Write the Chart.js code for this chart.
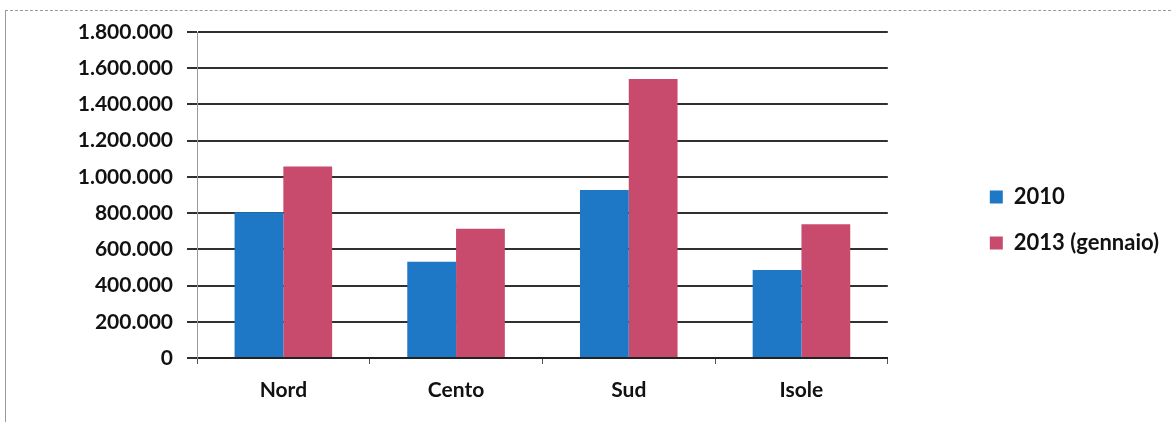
<!DOCTYPE html>
<html>
<head>
<meta charset="utf-8">
<script src="https://cdn.jsdelivr.net/npm/chart.js@4/dist/chart.umd.min.js"></script>
<style>
  html, body { margin: 0; padding: 0; background: #fff; }
  #wrap { position: relative; width: 1171px; height: 422px; }
  #frame {
    position: absolute; left: 5px; top: 10px; right: 0; bottom: 0;
    border-top: 1px dashed #9a9a9a; border-left: 1px solid #9a9a9a;
  }
  canvas { position: absolute; left: 0; top: 0; }
</style>
</head>
<body>
<div id="wrap">
  <div id="frame"></div>
  <canvas id="chart" width="1171" height="422"></canvas>
</div>
<script>
const categories = ["Nord", "Cento", "Sud", "Isole"]
const seriesNames = ["2010", "2013 (gennaio)"]
const values2010 = [805000, 532000, 928000, 486000]
const values2013 = [1057000, 713000, 1540000, 739000]
const yTickLabels = ["0", "200.000", "400.000", "600.000", "800.000", "1.000.000", "1.200.000", "1.400.000", "1.600.000", "1.800.000"]

const FONT = "Lato, 'Open Sans', sans-serif"

// the legend sits well right of the plot, further than Chart.js puts it
const legendShift = {
  id: "legendShift",
  afterLayout(chart) {
    const lg = chart.legend
    if (!lg) return
    lg.left += 78
    lg.right += 78
    lg.top -= 7
    lg.bottom -= 7
  },
}

const ctx = document.getElementById("chart")
new Chart(ctx, {
  type: "bar",
  data: {
    labels: categories,
    datasets: [
      {
        label: seriesNames[0],
        data: values2010,
        backgroundColor: "#1f78c6",
        borderWidth: 0,
      },
      {
        label: seriesNames[1],
        data: values2013,
        backgroundColor: "#c84b6d",
        borderWidth: 0,
      },
    ],
  },
  options: {
    responsive: false,
    animation: false,
    layout: { padding: { top: 32, right: 80, left: 0, bottom: 0 } },
    datasets: {
      bar: { categoryPercentage: 0.565, barPercentage: 1.0 },
    },
    plugins: {
      legend: {
        position: "right",
        align: "center",
        labels: {
          color: "#111",
          font: { family: FONT, size: 22, weight: "bold" },
          boxWidth: 13,
          boxHeight: 13,
          padding: 24,
        },
      },
      tooltip: { enabled: false },
    },
    scales: {
      x: {
        offset: true,
        grid: {
          display: true,
          drawOnChartArea: false,
          drawTicks: true,
          tickLength: 6,
          color: "#555",
          offset: true,
        },
        border: { display: true, color: "#222", width: 2 },
        ticks: {
          color: "#111",
          padding: 14,
          font: { family: FONT, size: 21, weight: "bold" },
        },
        afterFit: (s) => { s.height = 64 },
      },
      y: {
        min: 0,
        max: 1800000,
        grid: {
          color: "rgba(25,25,25,0.9)",
          lineWidth: 2,
          tickLength: 10,
        },
        border: { display: true, color: "#9a9a9a", width: 1 },
        ticks: {
          stepSize: 200000,
          color: "#111",
          padding: 14,
          font: { family: FONT, size: 21, weight: "bold" },
          callback: (v) => yTickLabels[Math.round(v / 200000)],
        },
        afterFit: (s) => { s.width = 197 },
      },
    },
  },
  plugins: [legendShift],
})
</script>
</body>
</html>
